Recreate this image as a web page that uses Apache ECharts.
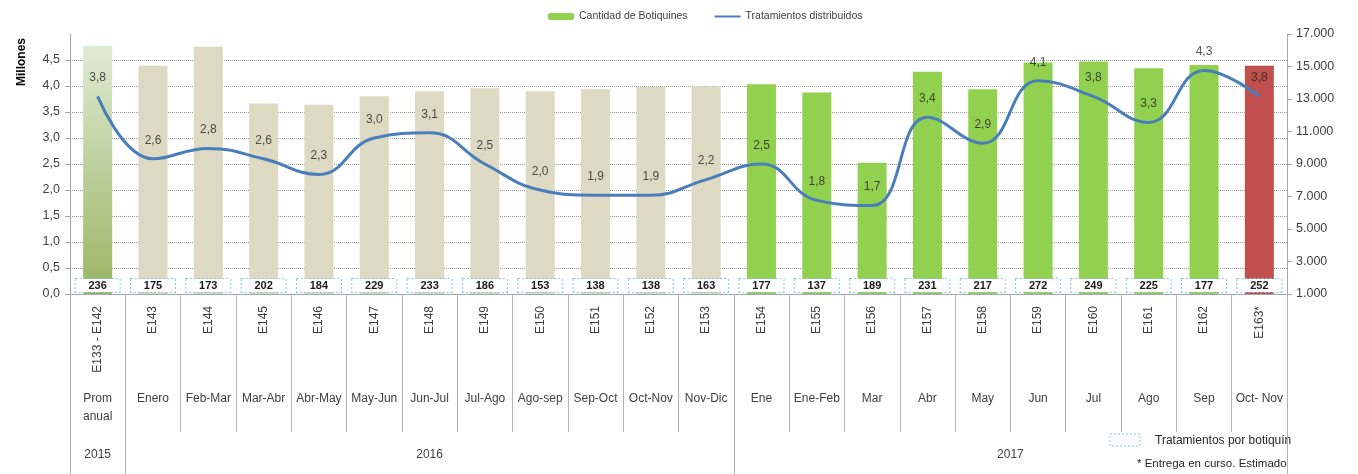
<!DOCTYPE html>
<html>
<head>
<meta charset="utf-8">
<style>
  html, body { margin: 0; padding: 0; background: #fff; }
  #chart { width: 1358px; height: 474px; }
</style>
<script src="https://cdn.jsdelivr.net/npm/echarts@6/dist/echarts.min.js"></script>
</head>
<body>
<div id="chart"></div>
<script>
// Entregas (códigos) y periodos
const codes = ['E133 - E142', 'E143', 'E144', 'E145', 'E146', 'E147', 'E148', 'E149', 'E150', 'E151', 'E152',
  'E153', 'E154', 'E155', 'E156', 'E157', 'E158', 'E159', 'E160', 'E161', 'E162', 'E163*'];
const periods = ['Prom\nanual', 'Enero', 'Feb-Mar', 'Mar-Abr', 'Abr-May', 'May-Jun', 'Jun-Jul', 'Jul-Ago', 'Ago-sep',
  'Sep-Oct', 'Oct-Nov', 'Nov-Dic', 'Ene', 'Ene-Feb', 'Mar', 'Abr', 'May', 'Jun', 'Jul', 'Ago', 'Sep', 'Oct- Nov'];
const years = ['2015', '2016', '2016', '2016', '2016', '2016', '2016', '2016', '2016', '2016', '2016',
  '2016', '2017', '2017', '2017', '2017', '2017', '2017', '2017', '2017', '2017', '2017'];

// Cantidad de botiquines (eje derecho)
const botiquines = [16280, 15040, 16210, 12720, 12650, 13170, 13480, 13660, 13480, 13600, 13740,
  13770, 13910, 13400, 9070, 14670, 13600, 15250, 15310, 14900, 15100, 15040];
// Tratamientos distribuidos, millones (eje izquierdo)
const tratamientos = [3.8, 2.6, 2.8, 2.6, 2.3, 3.0, 3.1, 2.5, 2.0, 1.9, 1.9,
  2.2, 2.5, 1.8, 1.7, 3.4, 2.9, 4.1, 3.8, 3.3, 4.3, 3.8];
// Tratamientos por botiquín
const porBotiquin = [236, 175, 173, 202, 184, 229, 233, 186, 153, 138, 138,
  163, 177, 137, 189, 231, 217, 272, 249, 225, 177, 252];

const leftTicks = { min: 0, max: 5, step: 0.5 };
const rightTicks = { min: 1000, max: 17000, step: 2000 };

const FONT = '"Liberation Sans", Arial, sans-serif';
const TXT = '#404040';
const LINE_BLUE = '#4a7ebb';
const GRID = { left: 70, right: 71, top: 34, bottom: 180 };
const bandW = (1358 - GRID.left - GRID.right) / codes.length;

// colour of each bar by period
function barColor(i) {
  if (codes[i].endsWith('*')) return '#C0504D';
  if (years[i] === '2015') {
    return new echarts.graphic.LinearGradient(0, 0, 0, 1, [
      { offset: 0, color: '#dfead4' },
      { offset: 1, color: '#98b562' }
    ]);
  }
  if (years[i] === '2016') return '#DDD9C3';
  return '#92D050';
}

// year groups: label centred over its run of categories
function yearLabel(value, idx) {
  const y = years[idx];
  const first = years.indexOf(y), last = years.lastIndexOf(y);
  const mid = (first + last) / 2;
  if (idx !== Math.floor(mid)) return '';
  if (mid % 1 !== 0) return '{gap|}{t|' + y + '}';
  return '{t|' + y + '}';
}

const chart = echarts.init(document.getElementById('chart'), null, { renderer: 'canvas' });

const fmtComma = v => v.toFixed(1).replace('.', ',');
const fmtThousands = v => String(v).replace(/\B(?=(\d{3})+(?!\d))/g, '.');

chart.setOption({
  animation: false,
  textStyle: { fontFamily: FONT },
  legend: {
    left: 543, top: 6,
    itemWidth: 26, itemHeight: 7, itemGap: 26,
    textStyle: { fontSize: 10.5, color: TXT, fontFamily: FONT },
    data: [
      { name: 'Cantidad de Botiquines', itemStyle: { color: '#92D050' } },
      { name: 'Tratamientos distribuidos', itemStyle: { opacity: 0 } }
    ]
  },
  grid: GRID,
  xAxis: [
    {
      type: 'category', data: codes, position: 'bottom',
      axisLine: { show: true, lineStyle: { color: '#a6a6a6', width: 1 } },
      axisTick: { show: true, interval: 0, length: 138, lineStyle: { color: '#b3b3b3' } },
      axisLabel: { interval: 0, rotate: 90, margin: 12, fontSize: 12, color: TXT, fontFamily: FONT }
    },
    {
      type: 'category', data: periods, position: 'bottom',
      axisLine: { show: false }, axisTick: { show: false },
      axisLabel: { interval: 0, margin: 96, fontSize: 12, lineHeight: 18, color: TXT, fontFamily: FONT, verticalAlign: 'top' }
    },
    {
      type: 'category', data: years, position: 'bottom',
      axisLine: { show: false },
      axisTick: {
        show: true, length: 180, lineStyle: { color: '#b3b3b3' },
        interval: (idx) => idx === 0 || years[idx] !== years[idx - 1]
      },
      axisLabel: {
        interval: 0, margin: 155, fontSize: 12, color: TXT, fontFamily: FONT,
        formatter: yearLabel,
        rich: {
          gap: { width: bandW },
          t: { fontSize: 12, color: TXT, fontFamily: FONT }
        }
      }
    }
  ],
  yAxis: [
    {
      type: 'value', position: 'left',
      min: leftTicks.min, max: leftTicks.max, interval: leftTicks.step,
      axisLine: { show: true, lineStyle: { color: '#a6a6a6' } },
      axisTick: { show: true, length: 5, lineStyle: { color: '#a6a6a6' } },
      axisLabel: { showMaxLabel: false, fontSize: 12.5, color: TXT, margin: 10, formatter: fmtComma, fontFamily: FONT },
      splitLine: { show: true, showMaxLine: false, showMinLine: false, lineStyle: { color: '#9a9a9a', type: [1, 1], width: 1 } }
    },
    {
      type: 'value', position: 'right',
      min: rightTicks.min, max: rightTicks.max, interval: rightTicks.step,
      axisLine: { show: true, lineStyle: { color: '#a6a6a6' } },
      axisTick: { show: true, length: 5, lineStyle: { color: '#a6a6a6' } },
      axisLabel: { fontSize: 12.5, color: TXT, margin: 9, formatter: fmtThousands, fontFamily: FONT },
      splitLine: { show: false }
    }
  ],
  series: [
    {
      name: 'Cantidad de Botiquines', type: 'bar',
      xAxisIndex: 0, yAxisIndex: 1,
      barWidth: 29,
      data: botiquines.map((v, i) => ({ value: v, itemStyle: { color: barColor(i) } })),
      label: {
        show: true, position: 'insideBottom', distance: 2,
        formatter: p => String(porBotiquin[p.dataIndex]),
        width: 42, height: 12, lineHeight: 13, align: 'center',
        padding: [1, 1, 0, 1],
        fontSize: 11, fontWeight: 'bold', color: '#1a1a1a', fontFamily: FONT,
        backgroundColor: '#ffffff',
        borderColor: '#86c9e3', borderWidth: 1, borderType: [2, 2]
      }
    },
    {
      name: 'Tratamientos distribuidos', type: 'line',
      xAxisIndex: 0, yAxisIndex: 0,
      data: tratamientos,
      smooth: 0.45,
      symbol: 'none',
      lineStyle: { color: LINE_BLUE, width: 3 },
      itemStyle: { color: LINE_BLUE },
      z: 3
    },
    {
      // value labels of the line (millones)
      name: 'Tratamientos (valor)', type: 'scatter',
      xAxisIndex: 0, yAxisIndex: 0,
      data: tratamientos,
      symbolSize: 1,
      itemStyle: { color: 'rgba(0,0,0,0)' },
      label: {
        show: true, position: 'top', distance: 12,
        formatter: p => fmtComma(p.value),
        fontSize: 12, color: '#262626', fontFamily: FONT
      },
      silent: true,
      z: 4
    }
  ],
  graphic: [
    {
      type: 'text', x: 22, y: 62, rotation: Math.PI / 2,
      style: { text: 'Millones', fontSize: 12, fontWeight: 'bold', fill: '#000', fontFamily: FONT, align: 'center', verticalAlign: 'middle' }
    },
    {
      type: 'rect', shape: { x: 1110, y: 434, width: 30, height: 12 },
      style: { fill: '#fff', stroke: '#86c9e3', lineWidth: 1, lineDash: [2, 2] }
    },
    {
      type: 'text', x: 1155, y: 441,
      style: { text: 'Tratamientos por botiquín', fontSize: 12, fill: '#262626', fontFamily: FONT, verticalAlign: 'middle' }
    },
    {
      type: 'text', x: 1137, y: 464,
      style: { text: '* Entrega en curso. Estimado', fontSize: 11.5, fill: '#262626', fontFamily: FONT, verticalAlign: 'middle' }
    }
  ]
});
</script>
</body>
</html>
